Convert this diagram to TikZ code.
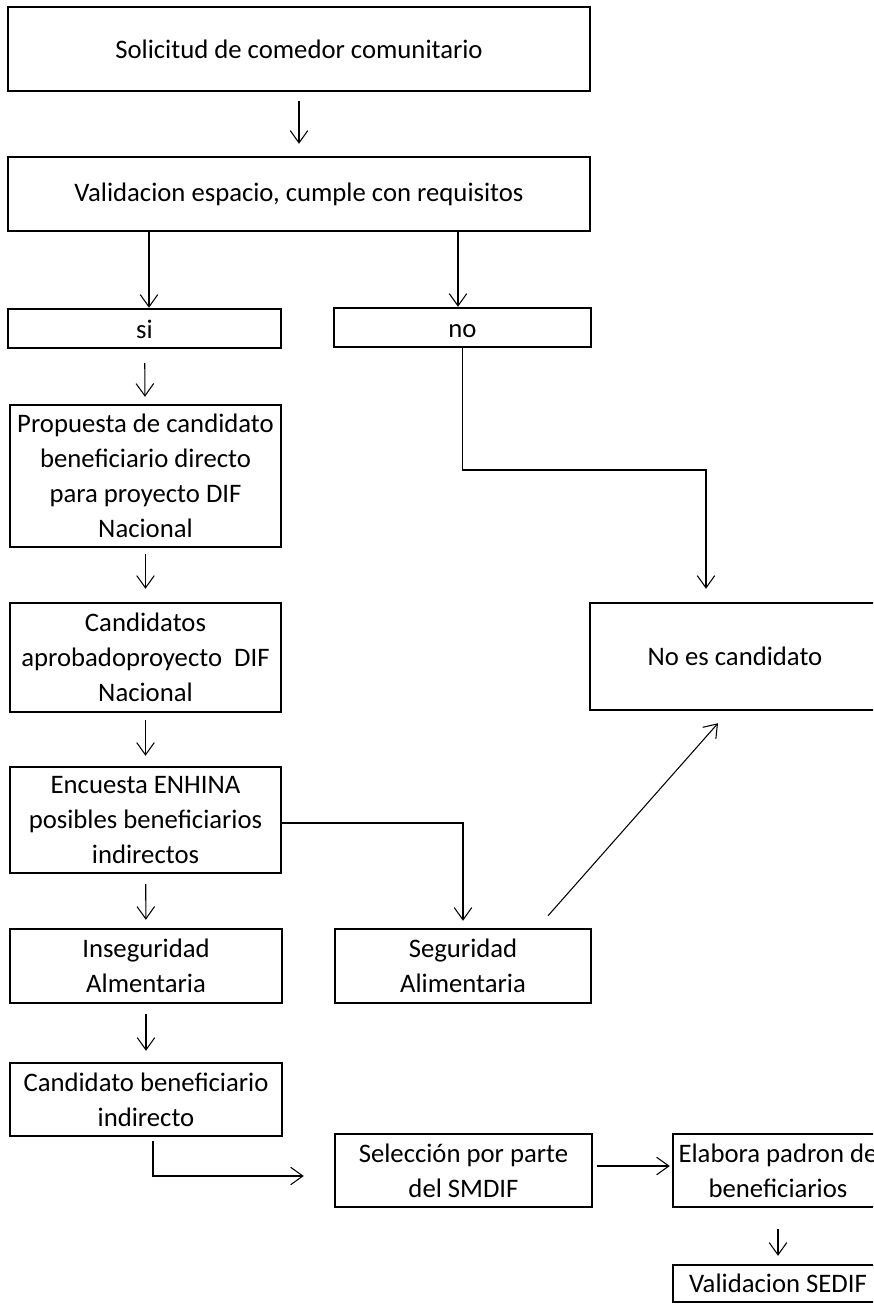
\documentclass[tikz,border=0pt]{standalone}
\usepackage{fontspec}
\setmainfont{Carlito}
\usetikzlibrary{arrows.meta, positioning, calc}

\begin{document}
\begin{tikzpicture}[
    box/.style={
        rectangle,
        draw=#1,
        line width=1.4pt,
        fill=white,
        inner sep=1pt,
        text=#1,
        font=\fontsize{15.2}{19.9}\selectfont,
        align=center
    },
    box/.default=black,
    arrow/.style={
        -{Straight Barb[length=7pt,width=10pt]},
        line width=0.6pt,
        draw=#1
    },
    arrow/.default=black,
]
\useasboundingbox (0,0) rectangle (17.46,-26.1);
\clip (0,0) rectangle (17.46,-26.1);
\fill[white] (0,0) rectangle (17.46,-26.1);

\node[box, minimum width=11.64cm, minimum height=1.68cm] (solicitud) at (5.98,-0.98) {Solicitud de comedor comunitario};
\node[box, minimum width=11.64cm, minimum height=1.48cm] (validacion) at (5.98,-3.88) {Validacion espacio, cumple con requisitos};

\node[box, minimum width=5.46cm, minimum height=0.78cm] (si) at (2.89,-6.57) {\rule{0pt}{15pt}\rule[-4pt]{0pt}{4pt}si};
\node[box, minimum width=5.14cm, minimum height=0.78cm] (no) at (9.25,-6.55) {\rule{0pt}{15pt}\rule[-4pt]{0pt}{4pt}no};

\node[box, minimum width=5.42cm, minimum height=2.84cm] (propuesta) at (2.91,-9.52) {Propuesta de candidato\\beneficiario directo\\para proyecto DIF\\Nacional};
\node[box, minimum width=5.42cm, minimum height=2.18cm] (candidatos) at (2.91,-13.15) {Candidatos\\aprobadoproyecto\ \ DIF\\Nacional};
\node[box, minimum width=5.80cm, minimum height=2.14cm] (noes) at (14.70,-13.13) {No es candidato};

\node[box, minimum width=5.42cm, minimum height=2.12cm] (encuesta) at (2.91,-16.40) {Encuesta ENHINA\\posibles beneficiarios\\indirectos};

\node[box, minimum width=5.44cm, minimum height=1.48cm] (inseguridad) at (2.92,-19.32) {Inseguridad\\Almentaria};
\node[box, minimum width=5.12cm, minimum height=1.48cm] (seguridad) at (9.26,-19.32) {Seguridad\\Alimentaria};

\node[box, minimum width=5.44cm, minimum height=1.46cm] (candben) at (2.92,-21.99) {Candidato beneficiario\\indirecto};
\node[box, minimum width=5.14cm, minimum height=1.46cm] (seleccion) at (9.27,-23.41) {Selección por parte\\del SMDIF};
\node[box, minimum width=4.20cm, minimum height=1.46cm] (elabora) at (15.56,-23.41) {Elabora padron de\\beneficiarios};
\node[box, minimum width=4.20cm, minimum height=0.74cm] (sedif) at (15.56,-25.67) {Validacion SEDIF};

% vertical steps
\draw[arrow, shorten <=0.18cm, shorten >=0.24cm] (solicitud) -- (validacion);
\draw[arrow] ([xshift=0.09cm]si.north |- validacion.south) -- ([xshift=0.09cm]si.north);
\draw[arrow] ([xshift=-0.09cm]no.north |- validacion.south) -- ([xshift=-0.09cm]no.north);
\draw[arrow, shorten <=0.28cm, shorten >=0.14cm] (si) -- (propuesta);
\draw[arrow, shorten <=0.12cm, shorten >=0.26cm] (propuesta) -- (candidatos);
\draw[arrow, shorten <=0.14cm, shorten >=0.2cm] (candidatos) -- (encuesta);
\draw[arrow, shorten <=0.2cm, shorten >=0.16cm] (encuesta) -- (inseguridad);
\draw[arrow, shorten <=0.2cm, shorten >=0.22cm] (inseguridad) -- (candben);
\draw[arrow, shorten <=0.42cm, shorten >=0.16cm] (elabora) -- (sedif);

% branches
\draw[arrow, shorten >=0.26cm] (no.south) |- ([xshift=-0.58cm]noes.north |- 0,-9.4) -- ([xshift=-0.58cm]noes.north);
\draw[arrow, shorten >=0.14cm] ([yshift=-0.06cm]encuesta.east) -| (seguridad.north);
\draw[arrow] ([xshift=1.7cm,yshift=0.24cm]seguridad.north) -- ([xshift=-0.34cm,yshift=-0.24cm]noes.south);
\draw[arrow] ([xshift=0.14cm,yshift=-0.08cm]candben.south) |- ([xshift=-0.6cm,yshift=-0.11cm]seleccion.west);
\draw[arrow, shorten <=0.08cm, shorten >=0.04cm] ([yshift=0.09cm]seleccion.east) -- ([yshift=0.09cm]elabora.west);

\end{tikzpicture}
\end{document}
